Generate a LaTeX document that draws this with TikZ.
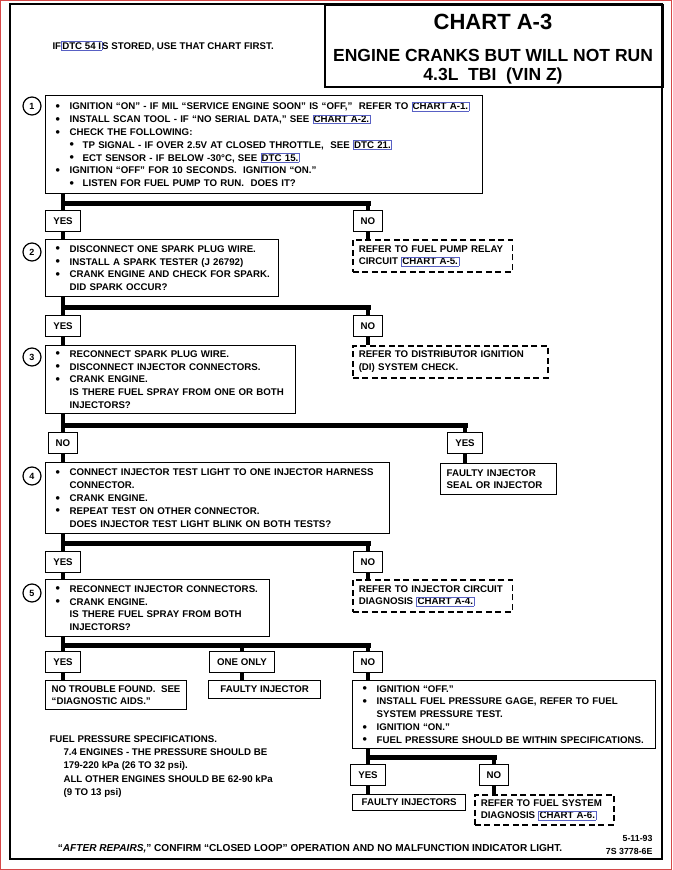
\documentclass[tikz,border=0pt]{standalone}
\usepackage{fontspec}
\setmainfont{Liberation Sans}
\usetikzlibrary{positioning, calc}
\definecolor{LB}{RGB}{88,96,196}
\definecolor{RB}{RGB}{214,72,72}
\newcommand{\lnk}[1]{{\setlength{\fboxsep}{0.6pt}\setlength{\fboxrule}{0.5pt}\fcolorbox{LB}{white}{#1}}}
\newcommand{\bdot}{\raisebox{-0.6pt}{\fontsize{12.5}{12.5}\selectfont\textbullet}}
\newcommand{\bul}{\hspace*{6pt}\makebox[14pt][l]{\bdot}}
\newcommand{\sbul}{\hspace*{20pt}\makebox[13pt][l]{\bdot}}
\newcommand{\ind}{\hspace*{20pt}}

\begin{document}
\begin{tikzpicture}[x=1pt, y=-1pt,
  txt/.style={font=\fontsize{9.7}{12.8}\selectfont\bfseries, align=left},
  stepbox/.style={txt, draw, line width=1.3pt, anchor=north west,
                  inner xsep=4pt, inner ysep=3pt},
  refbox/.style={txt, draw, dash pattern=on 6pt off 3.5pt, line width=1.5pt,
                 anchor=north west, inner xsep=6pt, inner ysep=3pt},
  endbox/.style={txt, draw, line width=1.3pt, anchor=north west,
                 inner xsep=6pt, inner ysep=2pt},
  ans/.style={txt, draw, line width=1.3pt, anchor=north, inner xsep=7.5pt,
              minimum height=21pt},
  nbr/.style={circle, draw, line width=1.2pt, minimum size=18pt, inner sep=0pt,
              font=\fontsize{9}{9}\selectfont\bfseries},
  trunk/.style={line width=4pt},
  bar/.style={line width=5pt, line cap=rect}
]
\useasboundingbox (0,0) rectangle (672,870);
% Page frame
\draw[RB, line width=1pt] (0.5,0.5) rectangle (671.5,869.5);
\draw[line width=1.6pt] (10,4) rectangle (662,859);

% Title block
\node[draw, line width=1.6pt, anchor=north west, minimum width=338pt,
      minimum height=82pt] (ttl) at (324,4) {};
\node[font=\fontsize{22}{22}\selectfont\bfseries] (chart) at (493,22) {CHART A-3};
\node[font=\fontsize{17.5}{19}\selectfont\bfseries, align=center] (sub) at (493,67)
  {ENGINE CRANKS BUT WILL NOT RUN\\4.3L\ \ TBI\ \ (VIN Z)};
\node[txt, anchor=west] (dtc) at (49,46) {IF\lnk{DTC 54 I}S STORED, USE THAT CHART FIRST.};

% Step 1
\node[nbr] (c1) at (32,106) {1};
\node[stepbox, text width=429pt, minimum height=98pt] (b1) at (45,95) {%
  \bul IGNITION “ON” - IF MIL “SERVICE ENGINE SOON” IS “OFF,”\ \ REFER TO \lnk{CHART A-1.}\\
  \bul INSTALL SCAN TOOL - IF “NO SERIAL DATA,” SEE \lnk{CHART A-2.}\\
  \bul CHECK THE FOLLOWING:\\
  \sbul TP SIGNAL - IF OVER 2.5V AT CLOSED THROTTLE,\ \ SEE \lnk{DTC 21.}\\
  \sbul ECT SENSOR - IF BELOW -30°C, SEE \lnk{DTC 15.}\\
  \bul IGNITION “OFF” FOR 10 SECONDS.\ \ IGNITION “ON.”\\
  \sbul LISTEN FOR FUEL PUMP TO RUN.\ \ DOES IT?};
\coordinate (j1) at (0,203);
\node[ans] (y1) at (63,210) {YES};
\node[ans] (n1) at (368,210) {NO};

% Step 2
\node[nbr] (c2) at (32,252) {2};
\node[stepbox, text width=225pt, minimum height=57pt] (b2) at (45,239) {%
  \bul DISCONNECT ONE SPARK PLUG WIRE.\\
  \bul INSTALL A SPARK TESTER (J 26792)\\
  \bul CRANK ENGINE AND CHECK FOR SPARK.\\
  \ind DID SPARK OCCUR?};
\node[refbox, text width=147.5pt, minimum height=32pt] (r1) at (352,239)
  {REFER TO FUEL PUMP RELAY\\CIRCUIT \lnk{CHART A-5.}};
\coordinate (j2) at (0,307);
\node[ans] (y2) at (63,315) {YES};
\node[ans] (n2) at (368,315) {NO};

% Step 3
\node[nbr] (c3) at (32,357) {3};
\node[stepbox, text width=242pt, minimum height=68pt] (b3) at (45,345) {%
  \bul RECONNECT SPARK PLUG WIRE.\\
  \bul DISCONNECT INJECTOR CONNECTORS.\\
  \bul CRANK ENGINE.\\
  \ind IS THERE FUEL SPRAY FROM ONE OR BOTH\\
  \ind INJECTORS?};
\node[refbox, text width=183pt, minimum height=32pt] (r2) at (352,345)
  {REFER TO DISTRIBUTOR IGNITION\\(DI) SYSTEM CHECK.};
\coordinate (j3) at (0,425);
\node[ans] (n3) at (63,432) {NO};
\node[ans] (y3) at (465,432) {YES};

% Step 4
\node[nbr] (c4) at (32,476) {4};
\node[stepbox, text width=336pt, minimum height=71pt] (b4) at (45,462) {%
  \bul CONNECT INJECTOR TEST LIGHT TO ONE INJECTOR HARNESS\\
  \ind CONNECTOR.\\
  \bul CRANK ENGINE.\\
  \bul REPEAT TEST ON OTHER CONNECTOR.\\
  \ind DOES INJECTOR TEST LIGHT BLINK ON BOTH TESTS?};
\node[endbox, text width=104pt, minimum height=31pt] (e1) at (440,463)
  {FAULTY INJECTOR\\SEAL OR INJECTOR};
\coordinate (j4) at (0,543);
\node[ans] (y4) at (63,551) {YES};
\node[ans] (n4) at (368,551) {NO};

% Step 5
\node[nbr] (c5) at (32,593) {5};
\node[stepbox, text width=216pt, minimum height=57pt] (b5) at (45,579) {%
  \bul RECONNECT INJECTOR CONNECTORS.\\
  \bul CRANK ENGINE.\\
  \ind IS THERE FUEL SPRAY FROM BOTH\\
  \ind INJECTORS?};
\node[refbox, text width=147.5pt, minimum height=32pt] (r3) at (352,579)
  {REFER TO INJECTOR CIRCUIT\\DIAGNOSIS \lnk{CHART A-4.}};
\coordinate (j5) at (0,645);
\node[ans] (y5) at (63,651) {YES};
\node[ans] (o5) at (242,651) {ONE ONLY};
\node[ans] (n5) at (368,651) {NO};

% Outcomes of step 5
\node[endbox, minimum height=29pt] (e2) at (45,680)
  {NO TROUBLE FOUND.\ \ SEE\\“DIAGNOSTIC AIDS.”};
\node[endbox, minimum width=112pt, minimum height=18pt] (e3) at (208,680) {FAULTY INJECTOR};
\node[stepbox, text width=295pt, minimum height=68pt] (b6) at (352,680) {%
  \bul IGNITION “OFF.”\\
  \bul INSTALL FUEL PRESSURE GAGE, REFER TO FUEL\\
  \ind SYSTEM PRESSURE TEST.\\
  \bul IGNITION “ON.”\\
  \bul FUEL PRESSURE SHOULD BE WITHIN SPECIFICATIONS.};
\coordinate (j6) at (0,757);
\node[ans] (y6) at (368,764) {YES};
\node[ans] (n6) at (494,764) {NO};
\node[endbox, minimum width=113pt, minimum height=16pt] (e4) at (352,794) {FAULTY INJECTORS};
\node[refbox, text width=127pt, minimum height=30pt] (r4) at (474,794)
  {REFER TO FUEL SYSTEM\\DIAGNOSIS \lnk{CHART A-6.}};

% Branch trunks
\foreach \s/\a/\b/\j in {b1/y1/n1/j1, b2/y2/n2/j2, b3/n3/y3/j3, b4/y4/n4/j4,
                         b5/y5/n5/j5, b6/y6/n6/j6}{
  \draw[trunk] (\s.south -| \a.north) -- (\a.north);
  \draw[bar] (\j -| \a.north) -- (\j -| \b.north);
  \draw[trunk] (\j -| \b.north) -- (\b.north);
}
\draw[trunk] (j5 -| o5.north) -- (o5.north);
\foreach \a/\t in {y1/b2, n1/r1, y2/b3, n2/r2, n3/b4, y3/e1, y4/b5, n4/r3,
                   y5/e2, o5/e3, n5/b6, y6/e4, n6/r4}{
  \draw[trunk] (\a.south) -- (\a.south |- \t.north);
}

% Notes
\node[txt, anchor=north west, font=\fontsize{9.7}{13.3}\selectfont\bfseries] (fps) at (46,732) {%
  FUEL PRESSURE SPECIFICATIONS.\\
  \hspace*{14pt}7.4 ENGINES - THE PRESSURE SHOULD BE\\
  \hspace*{14pt}179-220 kPa (26 TO 32 psi).\\
  \hspace*{14pt}ALL OTHER ENGINES SHOULD BE 62-90 kPa\\
  \hspace*{14pt}(9 TO 13 psi)};
\node[font=\fontsize{10.1}{11}\selectfont\bfseries] (note) at (310,849)
  {“\textit{AFTER REPAIRS,}” CONFIRM “CLOSED LOOP” OPERATION AND NO MALFUNCTION INDICATOR LIGHT.};
\node[font=\fontsize{8.8}{12.5}\selectfont\bfseries, align=right, anchor=east] (dt) at (656,845)
  {5-11-93\\7S 3778-6E};
\end{tikzpicture}
\end{document}
